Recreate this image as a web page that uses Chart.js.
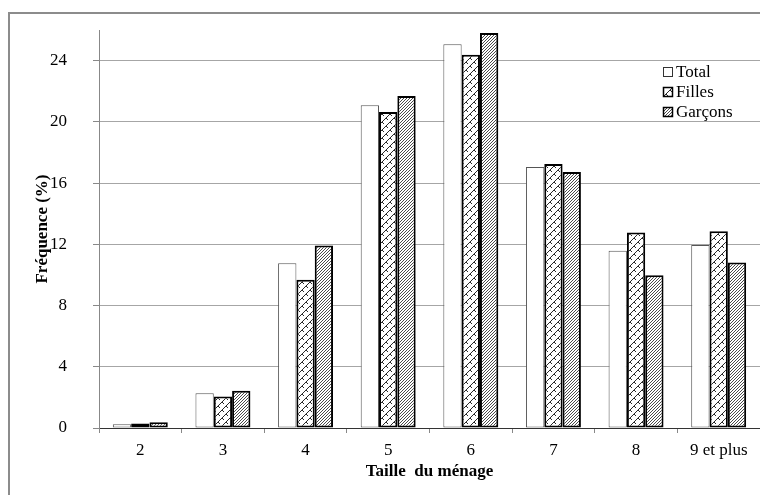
<!DOCTYPE html>
<html lang="fr">
<head>
    <meta charset="UTF-8">
    <title>Taille du ménage</title>
    <style>
        html, body {
            margin: 0;
            padding: 0;
            background: #fff;
        }
        #wrap {
            width: 760px;
            height: 495px;
        }
    </style>
</head>
<body>
    <div id="wrap">
        <canvas id="chart" width="760" height="495"></canvas>
    </div>

    <script src="https://cdn.jsdelivr.net/npm/chart.js"></script>
    <script>
        // Household size categories and frequencies (%)
        const categories = ['2', '3', '4', '5', '6', '7', '8', '9 et plus'];
        const totalValues = [0.24, 2.27, 10.77, 21.08, 25.07, 17.05, 11.58, 11.95];
        const fillesValues = [0.29, 2.05, 9.68, 20.65, 24.39, 17.24, 12.77, 12.86];
        const garconsValues = [0.37, 2.44, 11.92, 21.69, 25.8, 16.72, 9.98, 10.81];
        const yTicks = [0, 4, 8, 12, 16, 20, 24];

        const serif = "'Liberation Serif', 'Times New Roman', serif";

        // Build a small pixel tile and turn it into a canvas pattern
        function makePattern(size, isInk, ink) {
            const c = document.createElement('canvas');
            c.width = size;
            c.height = size;
            const g = c.getContext('2d');
            g.fillStyle = '#fff';
            g.fillRect(0, 0, size, size);
            g.fillStyle = ink;
            for (let y = 0; y < size; y++) {
                for (let x = 0; x < size; x++) {
                    if (isInk(x, y)) g.fillRect(x, y, 1, 1);
                }
            }
            return g.createPattern(c, 'repeat');
        }

        const ctx = document.getElementById('chart').getContext('2d');

        // fine upward diagonal for boys
        const garconsFill = makePattern(3, (x, y) => (x + y) % 3 === 0, '#4a4a4a');
        // diagonal brick / weave for girls
        const fillesFill = makePattern(8, (x, y) => {
            if ((x + y) % 8 === 7) return true;
            const d = ((x - y) % 8 + 8) % 8;
            return d === 4 && (x + y) % 8 < 4;
        }, '#2a2a2a');

        // outer frame around the whole figure
        const framePlugin = {
            id: 'frame',
            beforeDraw(chart) {
                const c = chart.ctx;
                c.save();
                c.fillStyle = '#8c8c8c';
                c.fillRect(8, 12, 800, 2);
                c.fillRect(8, 12, 2, 600);
                c.restore();
            }
        };

        // legend drawn inside the plot, top right
        const legendPlugin = {
            id: 'boxLegend',
            afterDraw(chart) {
                const c = chart.ctx;
                const x0 = 663, y0 = 72, step = 20, box = 10;
                c.save();
                c.font = '17px ' + serif;
                c.textBaseline = 'middle';
                c.textAlign = 'left';
                chart.data.datasets.forEach((ds, i) => {
                    const y = y0 + i * step;
                    c.fillStyle = ds.backgroundColor;
                    c.fillRect(x0, y - box / 2, box, box);
                    c.strokeStyle = i === 0 ? '#333' : '#000';
                    c.lineWidth = i === 0 ? 1 : 1.5;
                    c.strokeRect(x0 + 0.5, y - box / 2 + 0.5, box - 1, box - 1);
                    c.fillStyle = '#000';
                    c.fillText(ds.label, x0 + box + 3, y + 1);
                });
                c.restore();
            }
        };

        new Chart(ctx, {
            type: 'bar',
            data: {
                labels: categories,
                datasets: [
                    {
                        label: 'Total',
                        data: totalValues,
                        backgroundColor: '#ffffff',
                        borderColor: '#555',
                        borderWidth: 1
                    },
                    {
                        label: 'Filles',
                        data: fillesValues,
                        backgroundColor: fillesFill,
                        borderColor: '#000',
                        borderWidth: 2
                    },
                    {
                        label: 'Garçons',
                        data: garconsValues,
                        backgroundColor: garconsFill,
                        borderColor: '#000',
                        borderWidth: 2
                    }
                ]
            },
            options: {
                responsive: false,
                animation: false,
                layout: { padding: { top: 30, left: 0, right: 0, bottom: 0 } },
                datasets: {
                    bar: {
                        categoryPercentage: 0.665,
                        barPercentage: 1,
                        borderSkipped: false
                    }
                },
                plugins: {
                    legend: { display: false },
                    tooltip: { enabled: false }
                },
                scales: {
                    x: {
                        afterFit: s => { s.height = 67; },
                        border: { color: '#333', width: 1 },
                        grid: {
                            offset: true,
                            drawOnChartArea: false,
                            tickLength: 5,
                            tickColor: '#888'
                        },
                        ticks: {
                            color: '#000',
                            padding: 7,
                            maxRotation: 0,
                            font: { family: serif, size: 17 }
                        },
                        title: {
                            display: true,
                            text: 'Taille  du ménage',
                            color: '#000',
                            padding: { top: 13, bottom: 13 },
                            font: { family: serif, size: 17, weight: 'bold' }
                        }
                    },
                    y: {
                        min: 0,
                        max: 26,
                        afterFit: s => {
                            s.width = 99;
                            s.paddingTop = 0;
                            s.paddingBottom = 0;
                        },
                        afterBuildTicks: s => { s.ticks = yTicks.map(v => ({ value: v })); },
                        border: { color: '#888', width: 1 },
                        grid: {
                            color: c => c.tick && c.tick.value === 0 ? 'rgba(0,0,0,0)' : '#a6a6a6',
                            tickColor: '#888',
                            tickLength: 6
                        },
                        ticks: {
                            color: '#000',
                            padding: 26,
                            font: { family: serif, size: 17 }
                        },
                        title: {
                            display: true,
                            text: 'Fréquence (%)',
                            color: '#000',
                            padding: { top: 32, bottom: 32 },
                            font: { family: serif, size: 17, weight: 'bold' }
                        }
                    }
                }
            },
            plugins: [framePlugin, legendPlugin]
        });
    </script>
</body>
</html>
